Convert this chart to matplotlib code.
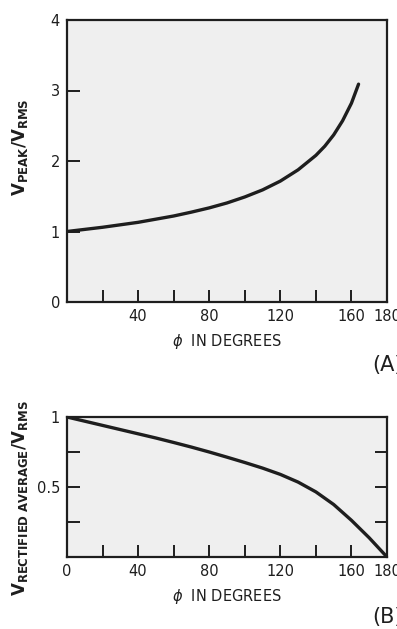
import matplotlib
matplotlib.use("Agg")
import matplotlib.pyplot as plt

plt.rcParams['font.family'] = ['DejaVu Sans']

# (A) 峰值 / 有效值
phi_a = [0, 10, 20, 30, 40, 50, 60, 70, 80, 90, 100, 110, 120, 130, 140, 145, 150, 155, 160, 164]
peak_rms = [1.0, 1.03, 1.06, 1.095, 1.13, 1.175, 1.22, 1.275, 1.335, 1.405, 1.49, 1.59, 1.715,
            1.875, 2.08, 2.21, 2.37, 2.57, 2.82, 3.09]

# (B) 整流平均 / 有效值
phi_b = [0, 10, 20, 30, 40, 50, 60, 70, 80, 90, 100, 110, 120, 130, 140, 150, 160, 170, 180]
avg_rms = [1.0, 0.97, 0.94, 0.91, 0.88, 0.85, 0.818, 0.785, 0.75, 0.713, 0.675, 0.635, 0.59,
           0.535, 0.465, 0.375, 0.262, 0.137, 0.0]

x_ticks_a = [20, 40, 60, 80, 100, 120, 140, 160, 180]
x_labels_a = ['', '40', '', '80', '', '120', '', '160', '180']
x_ticks_b = [0, 20, 40, 60, 80, 100, 120, 140, 160, 180]
x_labels_b = ['0', '', '40', '', '80', '', '120', '', '160', '180']

ink = '#1e1e1e'
paper = '#efefef'

fig = plt.figure(figsize=(3.97, 6.29), dpi=100)
fig.patch.set_facecolor('white')

W, H = 397.0, 629.0
ax_a = fig.add_axes([67 / W, (H - 302) / H, 320 / W, 282 / H])
ax_b = fig.add_axes([67 / W, (H - 557) / H, 320 / W, 140 / H])

for ax in (ax_a, ax_b):
    ax.set_facecolor(paper)
    for s in ax.spines.values():
        s.set_linewidth(1.6)
        s.set_color(ink)
    ax.tick_params(direction='in', length=9, width=1.4, color=ink, labelcolor=ink,
                   labelsize=10.5, pad=5)
    ax.set_xlim(0, 180)

# ---- 面板 A ----
ax_a.plot(phi_a, peak_rms, color=ink, lw=2.4, solid_capstyle='round')
ax_a.set_ylim(0, 4)
ax_a.set_xticks(x_ticks_a)
ax_a.set_xticklabels(x_labels_a)
ax_a.set_yticks([0, 1, 2, 3, 4])
ax_a.set_yticklabels(['0', '1', '2', '3', '4'])
ax_a.set_xlabel(r'$\phi$  IN DEGREES', fontsize=10.5, color=ink, labelpad=6)
ax_a.set_ylabel(r'V$_{\mathregular{PEAK}}$/V$_{\mathregular{RMS}}$', fontsize=12, color=ink,
                weight='bold')
ax_a.yaxis.set_label_coords(-0.115, 0.55)

# ---- 面板 B ----
ax_b.plot(phi_b, avg_rms, color=ink, lw=2.4, solid_capstyle='round')
ax_b.set_ylim(0, 1)
ax_b.set_xticks(x_ticks_b)
ax_b.set_xticklabels(x_labels_b)
ax_b.set_yticks([0.25, 0.5, 0.75, 1.0])
ax_b.set_yticklabels(['', '0.5', '', '1'])
ax_b.tick_params(axis='y', right=True)
ax_b.set_xlabel(r'$\phi$  IN DEGREES', fontsize=10.5, color=ink, labelpad=6)
ax_b.set_ylabel(r'V$_{\mathregular{RECTIFIED\ AVERAGE}}$/V$_{\mathregular{RMS}}$', fontsize=12,
                color=ink, weight='bold')
ax_b.yaxis.set_label_coords(-0.115, 0.42)

fig.text(372 / W, 1 - 365 / H, '(A)', fontsize=15, color=ink, va='center', ha='left')
fig.text(372 / W, 1 - 617 / H, '(B)', fontsize=15, color=ink, va='center', ha='left')

fig.savefig('out.png', dpi=100, facecolor='white')
